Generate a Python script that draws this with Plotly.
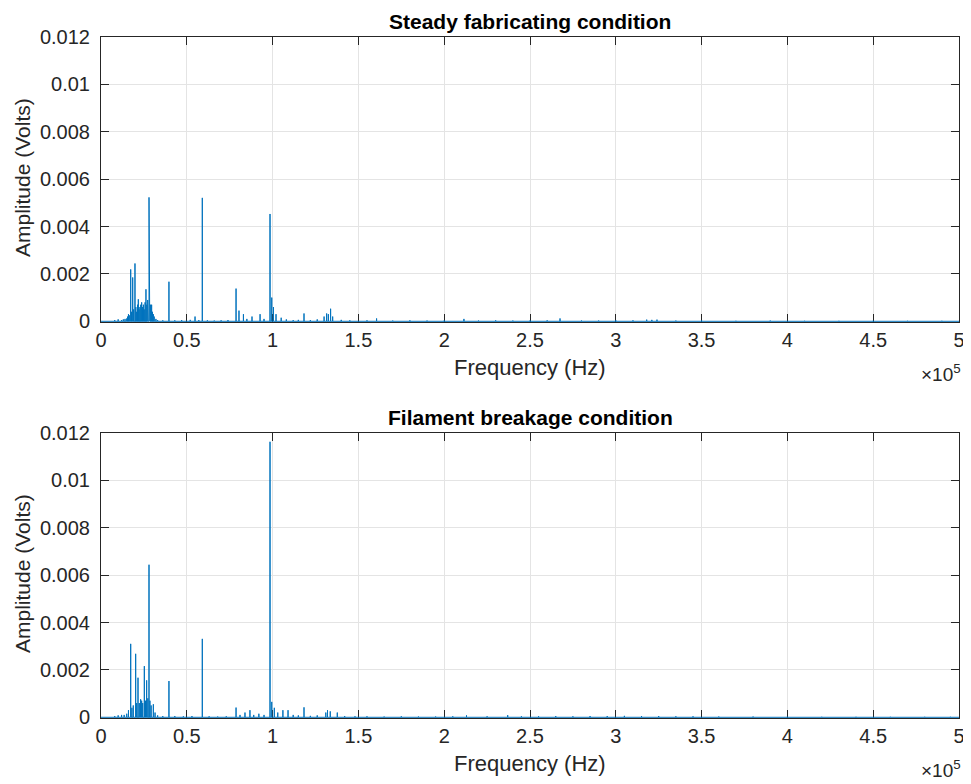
import plotly.graph_objects as go

# ---------------- data (Hz, Volts) ----------------
top_freq = [2000, 5000, 8000, 10000, 12000, 13000, 14000, 15000, 15500, 16000, 16500, 17300, 17800,
            18470, 19000, 19800, 20300, 20800, 21300, 21750, 22200, 22700, 23200, 23700, 24200,
            24700, 25200, 25700, 26200, 26700, 27200, 27500, 27970, 28400, 28900, 29500, 30000,
            30500, 31000, 32000, 33000, 36000, 39600, 43000, 47000, 52000, 54800, 57000, 59040,
            62000, 66000, 70000, 74000, 78700, 80400, 83000, 85000, 88000, 92700, 95000, 98500,
            99500, 100500, 102000, 105000, 108000, 112000, 115000, 118300, 122000, 126000, 130000,
            131500, 132500, 133800, 135000, 140000, 145000, 155000, 160600, 170000, 180000, 190000,
            200000, 211500, 220000, 230000, 240000, 250000, 260000, 267500, 280000, 290000, 300000,
            310000, 318000, 321000, 324000, 335000, 350000, 370000, 390000, 410000, 430000, 450000,
            470000, 490000]
top_amp = [0.00002, 0.00003, 0.00005, 0.00008, 0.00005, 0.00008, 0.0001, 0.00012, 0.0002, 0.0003,
           0.00025, 0.00219, 0.0004, 0.00185, 0.0005, 0.00244, 0.0006, 0.0004, 0.0007, 0.00093,
           0.0005, 0.0006, 0.0007, 0.0008, 0.0006, 0.0007, 0.0005, 0.0008, 0.00135, 0.0007,
           0.0009, 0.0008, 0.00523, 0.0008, 0.0007, 0.0007, 0.0004, 0.0003, 0.0002, 0.0001,
           0.00005, 0.00004, 0.00167, 0.00004, 0.00005, 0.00006, 0.0002, 0.00005, 0.00521,
           0.00004, 0.00003, 0.00004, 0.00005, 0.00138, 0.00045, 0.0003, 0.0001, 0.0002, 0.0003,
           0.0001, 0.00453, 0.001, 0.0006, 0.0003, 0.00015, 0.00008, 0.00005, 0.00006, 0.00033,
           0.00005, 0.00008, 0.0002, 0.00033, 0.0003, 0.00053, 0.0002, 0.00006, 0.00004, 0.00004,
           0.00012, 0.00003, 0.00004, 0.00003, 0.00003, 0.0001, 0.00003, 0.00004, 0.00003,
           0.00003, 0.00004, 0.00012, 0.00003, 0.00003, 0.00004, 0.00004, 0.00007, 0.00006,
           0.00007, 0.00003, 0.00003, 0.00002, 0.00003, 0.00002, 0.00002, 0.00002, 0.00002,
           0.00002]

bot_freq = [2000, 5000, 8000, 10000, 12000, 13500, 15000, 16000, 17300, 18000, 18800, 20200, 20800,
            21560, 22300, 23100, 23700, 24300, 25250, 25900, 26600, 27300, 27970, 28500, 29200,
            30500, 31500, 33000, 36000, 39600, 43000, 48000, 53000, 59040, 63000, 68000, 73000,
            78700, 81000, 83900, 86800, 89000, 92000, 95000, 98500, 99500, 101000, 103000, 106000,
            109000, 112000, 115000, 118300, 122000, 126000, 131000, 132000, 133600, 137700, 142000,
            148000, 155000, 165000, 175000, 185000, 195000, 205000, 213000, 225000, 237000, 245000,
            255000, 265000, 275000, 285000, 295000, 305000, 315000, 325000, 335000, 345000, 360000,
            380000, 400000, 420000, 440000, 460000, 480000, 495000]
bot_amp = [0.00002, 0.00003, 0.00005, 0.00008, 0.0001, 0.0001, 0.00015, 0.0003, 0.0031, 0.0004,
           0.0005, 0.00268, 0.0006, 0.00167, 0.0006, 0.00076, 0.0007, 0.0006, 0.00216, 0.0007,
           0.00156, 0.0008, 0.00644, 0.0007, 0.0005, 0.00055, 0.0002, 0.00008, 0.00005, 0.00153,
           0.00005, 0.00004, 0.00005, 0.00331, 0.00004, 0.00003, 0.00004, 0.00041, 0.0001, 0.0002,
           0.0003, 0.0001, 0.00015, 0.0001, 0.01163, 0.00065, 0.0004, 0.0002, 0.0003, 0.0003,
           0.0001, 0.00008, 0.00042, 0.00006, 0.00008, 0.0002, 0.0003, 0.00025, 0.0002, 0.00005,
           0.00004, 0.00004, 0.00003, 0.00004, 0.00003, 0.00003, 0.00004, 0.00008, 0.00004,
           0.00009, 0.00004, 0.00004, 0.00005, 0.00004, 0.00005, 0.00005, 0.00006, 0.00005,
           0.00005, 0.00004, 0.00004, 0.00003, 0.00003, 0.00002, 0.00002, 0.00002, 0.00002,
           0.00002, 0.00002]

x_tick_vals = [0, 50000, 100000, 150000, 200000, 250000, 300000, 350000, 400000, 450000, 500000]
x_tick_text = ["0", "0.5", "1", "1.5", "2", "2.5", "3", "3.5", "4", "4.5", "5"]
y_tick_vals = [0, 0.002, 0.004, 0.006, 0.008, 0.01, 0.012]
y_tick_text = ["0", "0.002", "0.004", "0.006", "0.008", "0.01", "0.012"]

titles = ["Steady fabricating condition", "Filament breakage condition"]
x_label = "Frequency (Hz)"
y_label = "Amplitude (Volts)"

# ---------------- build stem-like spectrum lines ----------------
def spectrum(freqs, amps):
    xs, ys = [0], [0]
    for f, a in zip(freqs, amps):
        xs += [f, f, f]
        ys += [0, a, 0]
    xs.append(500000)
    ys.append(0)
    return xs, ys

LINE = "#0072BD"
AX = "#262626"
GRID = "#e4e4e4"
FONT = "Liberation Sans, Arial, sans-serif"

OFF = 8  # page body margin
W, H = 971.0 - OFF, 784.0 - OFF
ML, MT = 101 - OFF, 37 - OFF
MR = W - (959 - OFF)
MB = H - (718 - OFF)
PW, PH = W - ML - MR, H - MT - MB

def py(pix):  # page pixel y -> paper
    return (H - MB - (pix - OFF)) / PH

def px(pix):  # page pixel x -> paper
    return ((pix - OFF) - ML) / PW

top_box = (37, 322)
bot_box = (433, 718)

fig = go.Figure()
for i, (fr, am) in enumerate([(top_freq, top_amp), (bot_freq, bot_amp)]):
    xs, ys = spectrum(fr, am)
    fig.add_trace(go.Scatter(x=xs, y=ys, mode="lines", line=dict(color=LINE, width=1),
                             xaxis="x" if i == 0 else "x2", yaxis="y" if i == 0 else "y2",
                             showlegend=False, hoverinfo="skip"))

axis_common = dict(showline=True, linecolor=AX, linewidth=1, mirror="ticks", ticks="inside",
                   ticklen=8, tickcolor=AX, showgrid=True, gridcolor=GRID, gridwidth=1,
                   zeroline=False, automargin=False, layer="below traces")
xfont = dict(family=FONT, size=20, color=AX)
yfont = dict(family=FONT, size=20, color=AX)
YR = [-0.00003, 0.012]

fig.update_layout(
    width=W, height=H, plot_bgcolor="white", paper_bgcolor="white",
    margin=dict(l=ML, r=MR, t=MT, b=MB),
    xaxis=dict(domain=[0, 1], range=[0, 500000], anchor="y", tickvals=x_tick_vals,
               ticktext=x_tick_text, tickfont=xfont, **axis_common),
    yaxis=dict(domain=[py(top_box[1]), py(top_box[0])], range=YR, anchor="x",
               tickvals=y_tick_vals, ticktext=y_tick_text, ticklabelstandoff=6,
               tickfont=yfont, **axis_common),
    xaxis2=dict(domain=[0, 1], range=[0, 500000], anchor="y2", tickvals=x_tick_vals,
                ticktext=x_tick_text, tickfont=xfont, **axis_common),
    yaxis2=dict(domain=[py(bot_box[1]), py(bot_box[0])], range=YR, anchor="x2",
                tickvals=y_tick_vals, ticktext=y_tick_text, ticklabelstandoff=6,
                tickfont=yfont, **axis_common),
)

ann = []
for t, yc in zip(titles, [21, 417]):
    ann.append(dict(text="<b>%s</b>" % t, x=0.5, y=py(yc), xref="paper", yref="paper",
                    showarrow=False, font=dict(family=FONT, size=21, color="black"),
                    xanchor="center", yanchor="middle"))
for yc in [367, 763]:
    ann.append(dict(text=x_label, x=0.5, y=py(yc), xref="paper", yref="paper", showarrow=False,
                    font=dict(family=FONT, size=22, color=AX), xanchor="center", yanchor="middle"))
for yc in [373, 769]:
    ann.append(dict(text="×10<sup>5</sup>", x=px(941), y=py(yc), xref="paper", yref="paper",
                    showarrow=False, font=dict(family=FONT, size=19, color=AX),
                    xanchor="center", yanchor="middle"))
for yc in [178, 574]:
    ann.append(dict(text=y_label, x=px(22), y=py(yc), xref="paper", yref="paper", showarrow=False,
                    textangle=-90, font=dict(family=FONT, size=21, color=AX),
                    xanchor="center", yanchor="middle"))
fig.update_layout(annotations=ann)

fig.write_html("out.html")
